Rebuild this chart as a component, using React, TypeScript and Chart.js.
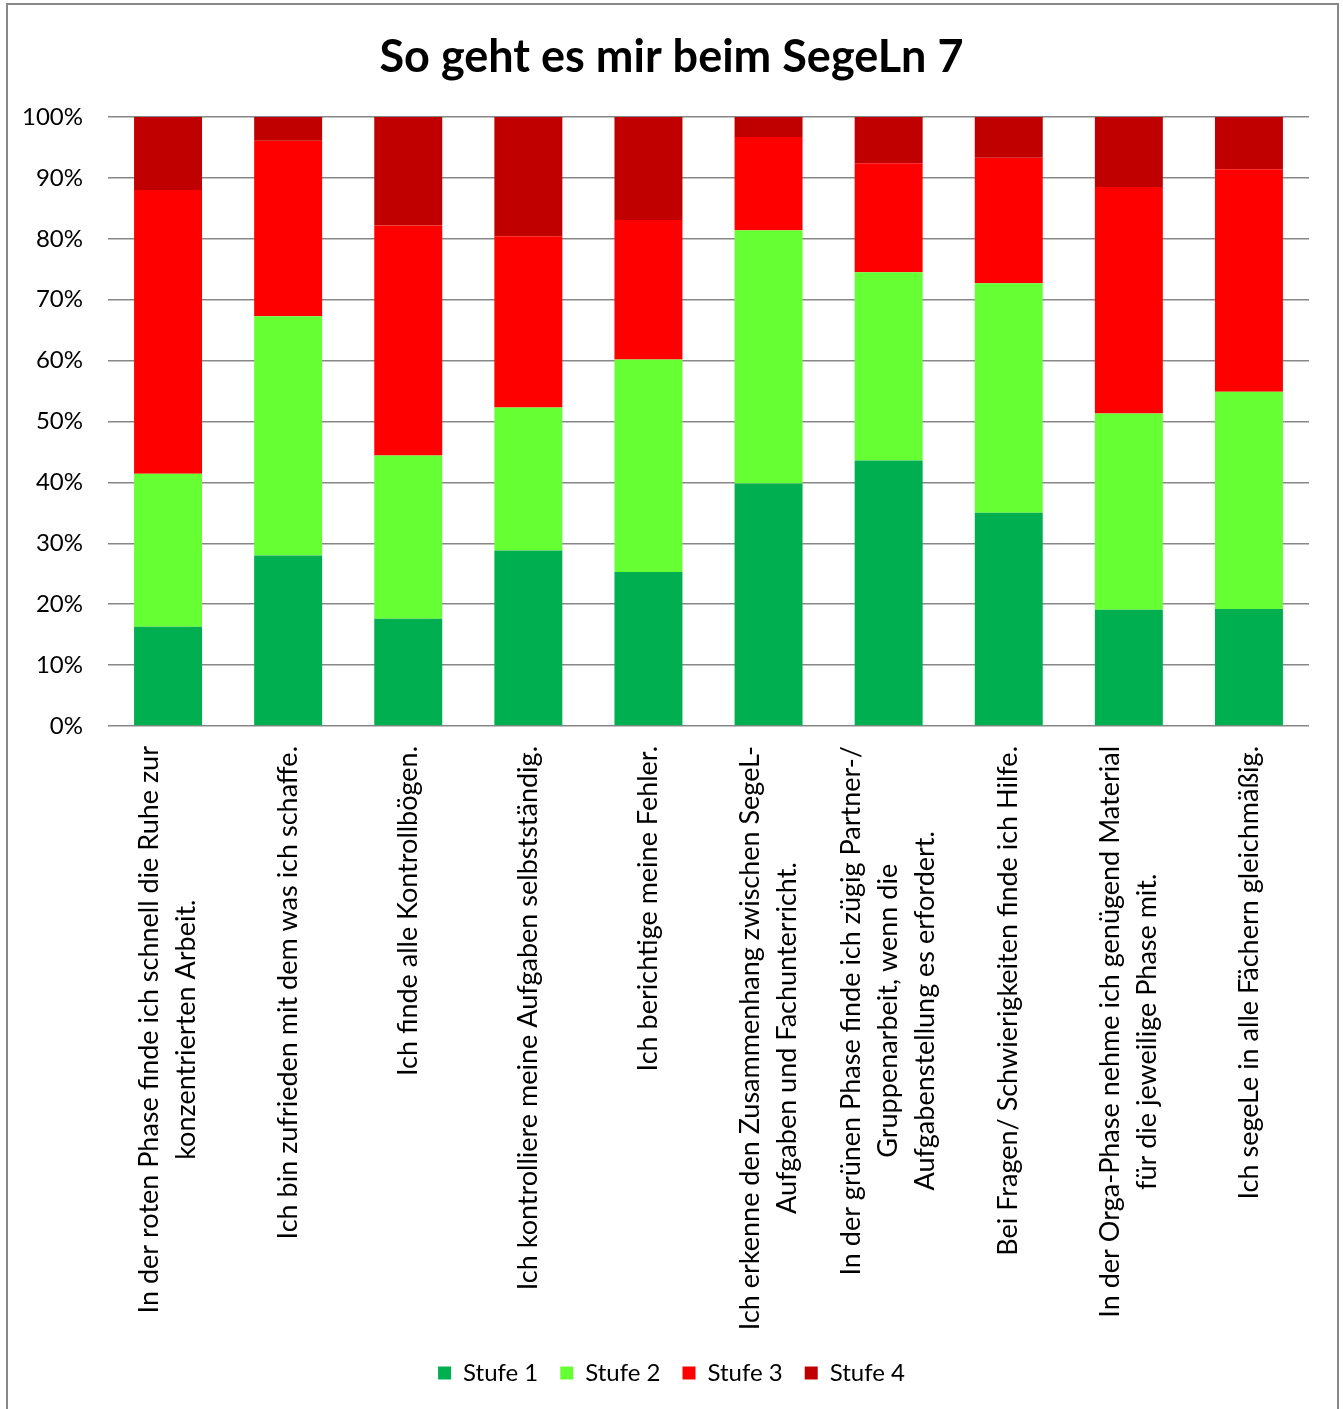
import React, { useEffect, useRef } from "react";
import { Chart, registerables } from "chart.js";

Chart.register(...registerables);

const TITLE = "So geht es mir beim SegeLn 7";

const CATEGORIES: string[][] = [
  ["In der roten Phase finde ich schnell die Ruhe zur", "konzentrierten Arbeit."],
  ["Ich bin zufrieden mit dem was ich schaffe."],
  ["Ich finde alle Kontrollbögen."],
  ["Ich kontrolliere meine Aufgaben selbstständig."],
  ["Ich berichtige meine Fehler."],
  ["Ich erkenne den Zusammenhang zwischen SegeL-", "Aufgaben und Fachunterricht."],
  ["In der grünen Phase finde ich zügig Partner-/", "Gruppenarbeit, wenn die", "Aufgabenstellung es erfordert."],
  ["Bei Fragen/ Schwierigkeiten finde ich Hilfe."],
  ["In der Orga-Phase nehme ich genügend Material", "für die jeweilige Phase mit."],
  ["Ich segeLe in alle Fächern gleichmäßig."],
];

const SERIES_NAMES = ["Stufe 1", "Stufe 2", "Stufe 3", "Stufe 4"];

const STUFE_1 = [16.3, 28.0, 17.6, 28.8, 25.3, 39.8, 43.6, 35.0, 19.1, 19.2];
const STUFE_2 = [25.1, 39.3, 26.8, 23.5, 34.9, 41.6, 30.9, 37.7, 32.2, 35.7];
const STUFE_3 = [46.6, 28.8, 37.8, 28.1, 22.9, 15.3, 17.9, 20.6, 37.2, 36.5];
const STUFE_4 = [12.0, 3.9, 17.8, 19.6, 16.9, 3.3, 7.6, 6.7, 11.5, 8.6];

const Y_TICKS = [0, 10, 20, 30, 40, 50, 60, 70, 80, 90, 100];

const COLORS = ["#00B050", "#66FF33", "#FF0000", "#C00000"];

const FONT = "Lato, 'Open Sans', sans-serif";
const W = 1343;
const H = 1409;

export default function App() {
  const ref = useRef<HTMLCanvasElement | null>(null);

  useEffect(() => {
    document.body.style.margin = "0";
    const canvas = ref.current;
    if (!canvas) return;

    const frame = {
      id: "frame",
      beforeDraw(chart: any) {
        const ctx = chart.ctx;
        ctx.save();
        ctx.fillStyle = "#ffffff";
        ctx.fillRect(0, 0, chart.width, chart.height);
        ctx.strokeStyle = "#898989";
        ctx.lineWidth = 2;
        ctx.strokeRect(7, 4, 1331, H + 20);
        ctx.restore();
      },
    };

    const catLabels = {
      id: "catLabels",
      afterDraw(chart: any) {
        const ctx = chart.ctx;
        const xs = chart.scales.x;
        const top = chart.chartArea.bottom + 20;
        const lineSpacing = 37;
        ctx.save();
        ctx.font = `27px ${FONT}`;
        ctx.fillStyle = "#000000";
        ctx.textAlign = "center";
        ctx.textBaseline = "middle";
        CATEGORIES.forEach((lines, i) => {
          const x = xs.getPixelForValue(i);
          const maxW = Math.max(...lines.map((l) => ctx.measureText(l).width));
          ctx.save();
          ctx.translate(x, top + maxW / 2);
          ctx.rotate(-Math.PI / 2);
          const n = lines.length;
          lines.forEach((line, j) => {
            ctx.fillText(line, 0, (j - (n - 1) / 2) * lineSpacing);
          });
          ctx.restore();
        });
        ctx.restore();
      },
    };

    const data = [STUFE_1, STUFE_2, STUFE_3, STUFE_4];

    const chart = new Chart(canvas, {
      type: "bar",
      data: {
        labels: CATEGORIES.map((c) => c.join(" ")),
        datasets: SERIES_NAMES.map((name, k) => ({
          label: name,
          data: data[k],
          backgroundColor: COLORS[k],
          borderWidth: 0,
          categoryPercentage: 1,
          barPercentage: 0.566,
        })),
      },
      options: {
        animation: false,
        responsive: false,
        devicePixelRatio: 1,
        layout: { padding: { top: 4, left: 0, right: 0, bottom: 14 } },
        plugins: {
          title: {
            display: true,
            text: TITLE,
            color: "#000000",
            font: { family: FONT, size: 45, weight: "bold", lineHeight: 1.2 },
            padding: { top: 26, bottom: 33 },
          },
          legend: {
            display: true,
            position: "bottom",
            labels: {
              color: "#000000",
              font: { family: FONT, size: 24 },
              boxWidth: 13,
              boxHeight: 13,
              padding: 22,
            },
          },
          tooltip: { enabled: false },
        },
        scales: {
          x: {
            stacked: true,
            grid: { display: false },
            border: { display: false },
            ticks: { display: false },
            afterFit(scale: any) {
              scale.height = 613;
            },
          },
          y: {
            stacked: true,
            min: 0,
            max: 100,
            afterBuildTicks(scale: any) {
              scale.ticks = Y_TICKS.map((v) => ({ value: v }));
            },
            afterFit(scale: any) {
              scale.width = 108;
            },
            grid: { color: "#878787", lineWidth: 1.6, drawTicks: false },
            border: { display: false },
            ticks: {
              padding: 25,
              color: "#000000",
              font: { family: FONT, size: 24 },
              callback: (v: any) => `${v}%`,
            },
          },
          y2: {
            position: "right",
            display: true,
            grid: { display: false },
            border: { display: false },
            ticks: { display: false },
            afterFit(scale: any) {
              scale.width = 34;
            },
          },
        },
      },
      plugins: [frame, catLabels],
    });

    return () => chart.destroy();
  }, []);

  return <canvas ref={ref} width={W} height={H} style={{ display: "block", width: W, height: H }} />;
}
